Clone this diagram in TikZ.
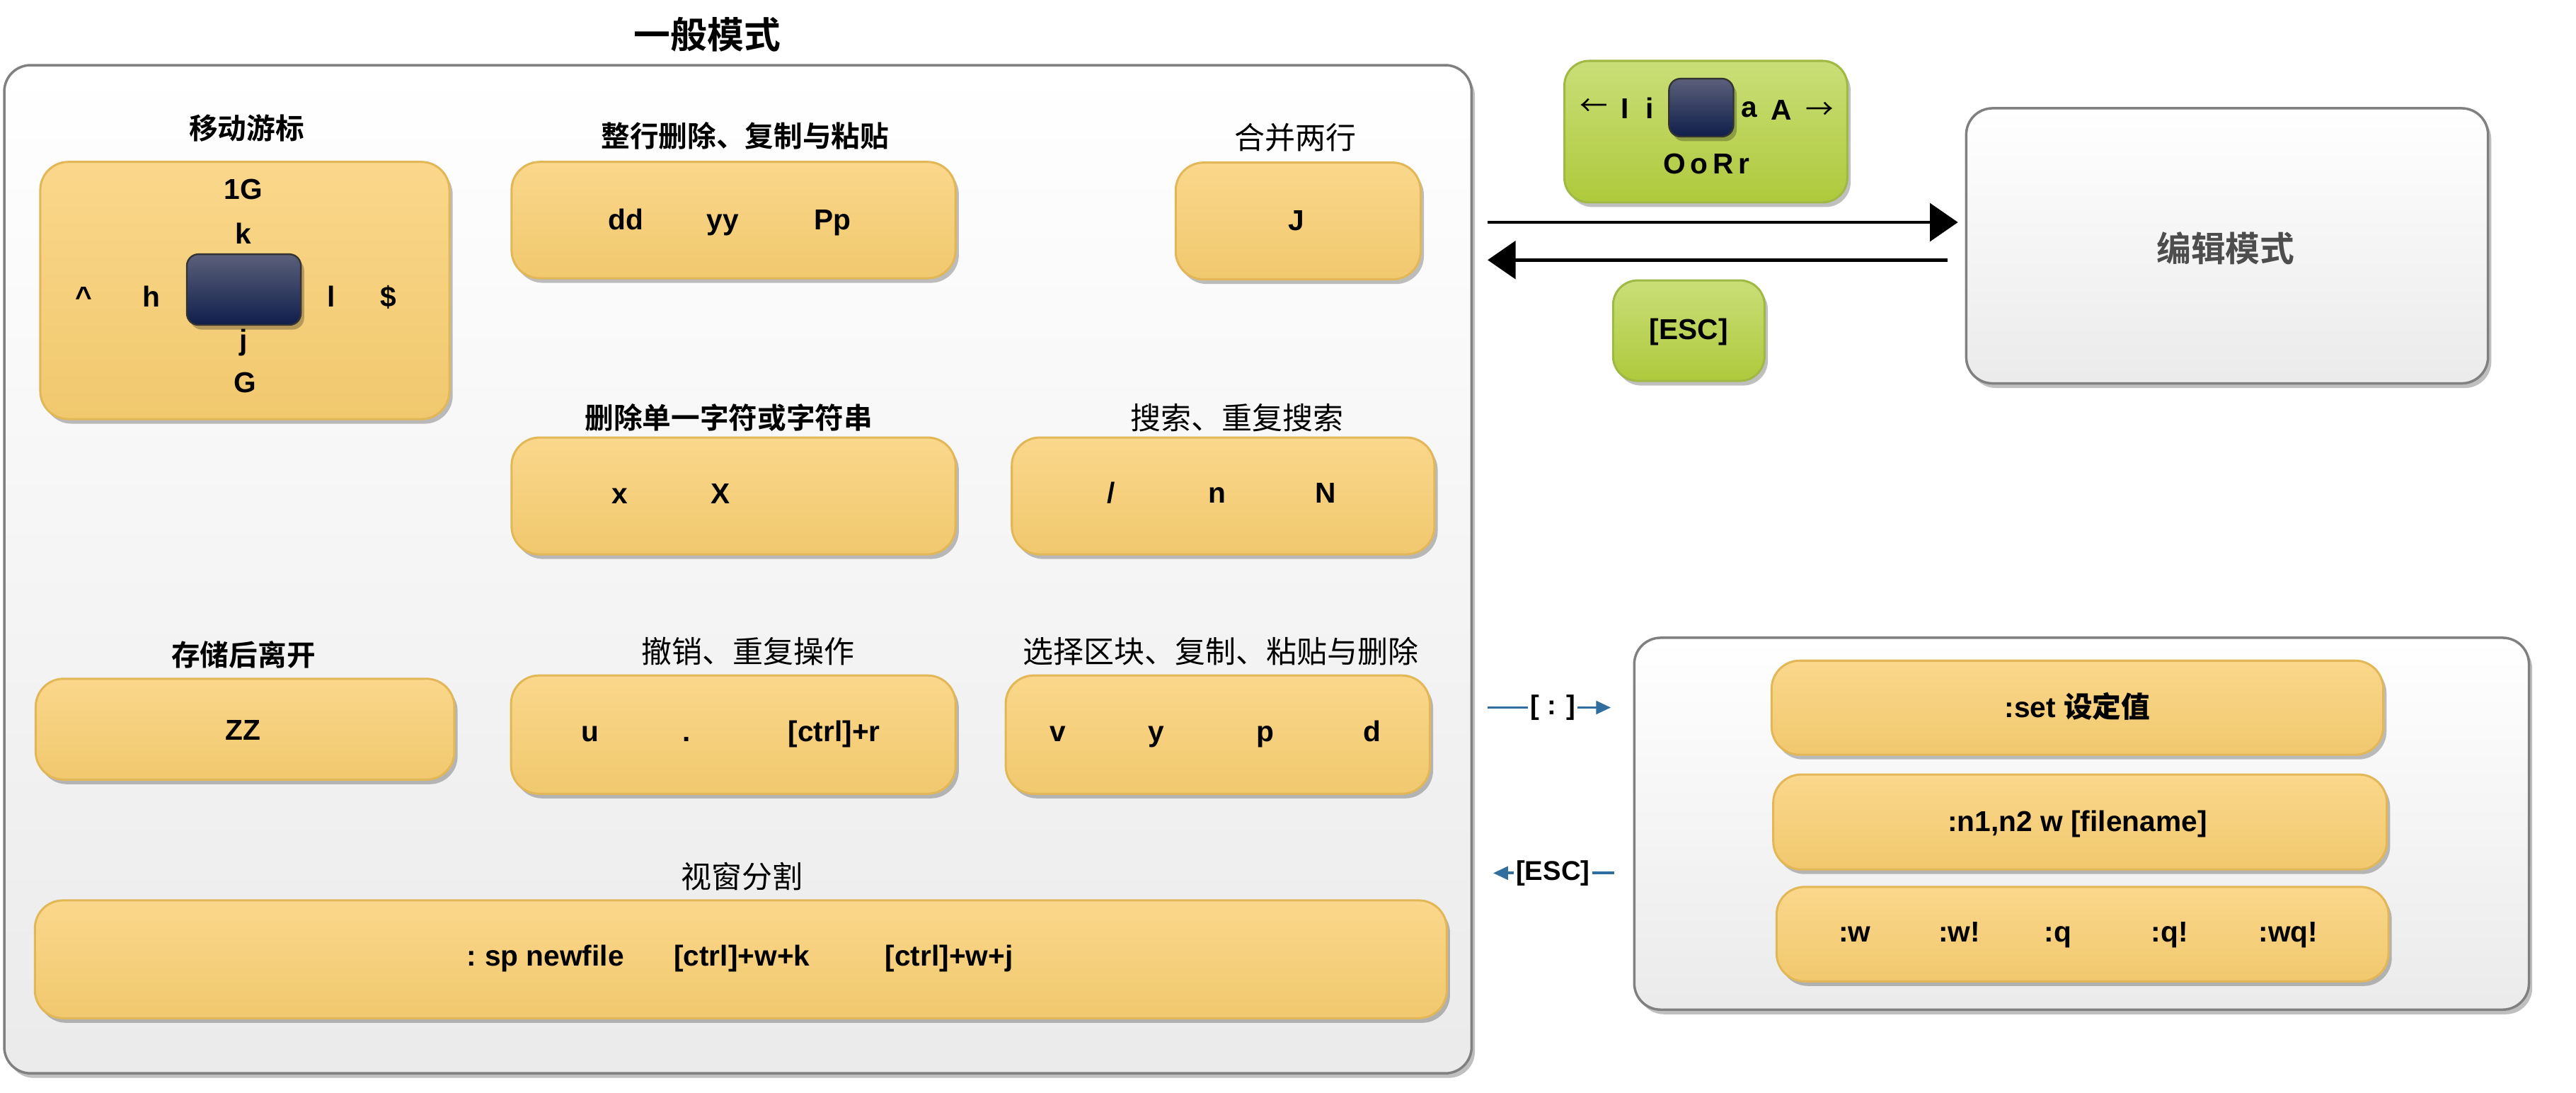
\documentclass[tikz,border=0pt]{standalone}
\usepackage{fontspec}
\setmainfont{Liberation Sans}
\newfontfamily\cjk{Noto Sans CJK SC}
\newfontfamily\cjkb{Noto Sans CJK SC Bold}
\usetikzlibrary{arrows.meta,shadows}
\definecolor{ytop}{HTML}{FAD78B}
\definecolor{ybot}{HTML}{F1C86E}
\definecolor{ybord}{HTML}{E2B758}
\definecolor{dtop}{HTML}{5B607A}
\definecolor{dbot}{HTML}{0F1E4B}
\definecolor{gtop}{HTML}{CADE78}
\definecolor{gbot}{HTML}{AFC93C}
\definecolor{gbord}{HTML}{9FB944}
\definecolor{blu}{HTML}{2F6E9E}
\definecolor{frm}{HTML}{808080}
\definecolor{edtxt}{HTML}{4D4D4D}
\newcommand\mybox[6]{\node[#1, minimum width={#5-#3}, minimum height={#6-#4}] (#2) at ({(#3+#5)/2},{(#4+#6)/2}) {};}
\tikzset{
  shad/.style={drop shadow={shadow xshift=2pt, shadow yshift=-2.8pt, fill=black, opacity=0.25}},
  bigbox/.style={draw=frm, line width=1.5pt, rounded corners=16pt, top color=white, bottom color=black!8, inner sep=0pt, shad},
  ybox/.style={draw=ybord, line width=1.3pt, rounded corners=17pt, top color=ytop, bottom color=ybot, inner sep=0pt, shad},
  gbox/.style={draw=gbord, line width=1.3pt, rounded corners=15pt, top color=gtop, bottom color=gbot, inner sep=0pt, shad},
  dbox/.style={draw=black!80, line width=1pt, rounded corners=7pt, top color=dtop, bottom color=dbot, inner sep=0pt, shad},
  keytxt/.style={font=\fontsize{17.5}{20}\selectfont\bfseries, inner sep=0pt, text height=12.5pt, text depth=3.5pt},
  cmdtxt/.style={font=\fontsize{17.5}{20}\selectfont\bfseries, inner sep=0pt, text height=12.5pt, text depth=3.5pt},
  headb/.style={font=\cjkb\fontsize{17.5}{20}\selectfont, inner sep=1pt},
  headr/.style={font=\cjk\fontsize{18.5}{21}\selectfont, inner sep=1pt},
  bigarr/.style={line width=2pt, -{Triangle[length=17pt,width=23pt]}},
  bluarr/.style={blu, line width=1.6pt, -{Triangle[length=9pt,width=8pt]}},
  lbl/.style={font=\fontsize{16.5}{19}\selectfont\bfseries, fill=white, inner sep=2pt, text=black},
}
\begin{document}
\begin{tikzpicture}[x=1pt,y=-1pt]
\useasboundingbox (0,0) rectangle (1566,664);
% title
\node[font=\cjkb\fontsize{22.3}{25}\selectfont] (title) at (430,21) {一般模式};
% main frame
\mybox{bigbox}{main}{2.6}{39.6}{894.6}{652.3}
% box 1: cursor movement
\node[headb] (h1) at (150,78) {移动游标};
\mybox{ybox}{b1}{24.5}{98.4}{273.2}{254.7}
\mybox{dbox}{cur}{113.6}{154.5}{182.9}{197.5}
\node[keytxt] (k1G) at (148,116.5) {1G};
\node[keytxt] (kk) at (148,143.7) {k};
\node[keytxt] (kc) at (51,181.8) {\textasciicircum};
\node[keytxt] (kh) at (92,181.8) {h};
\node[keytxt] (kl) at (201.5,181.8) {l};
\node[keytxt] (kd) at (236,181.8) {\$};
\node[keytxt] (kj) at (148,208.4) {j};
\node[keytxt] (kG) at (149,234.1) {G};
% box 2
\node[headb] (h2) at (453,82.6) {整行删除、复制与粘贴};
\mybox{ybox}{b2}{311}{98.4}{580.9}{169.1}
\node[keytxt] (kdd) at (380.4,135) {dd};
\node[keytxt] (kyy) at (439.3,135) {yy};
\node[keytxt] (kPp) at (506,135) {Pp};
% box 3
\node[headr] (h3) at (787.4,83.7) {合并两行};
\mybox{ybox}{b3}{714.7}{98.8}{863.6}{169.8}
\node[keytxt] (kJ) at (787.9,135.4) {J};
% box 4
\node[headb] (h4) at (443,254) {删除单一字符或字符串};
\mybox{ybox}{b4}{311}{265.9}{580.9}{336.9}
\node[keytxt] (kx) at (377,301.4) {x};
\node[keytxt] (kX) at (438,301.4) {X};
% box 5
\node[headr] (h5) at (752.2,253.9) {搜索、重复搜索};
\mybox{ybox}{b5}{615.1}{265.9}{872}{336.9}
\node[keytxt] (ks) at (675.6,301.3) {/};
\node[keytxt] (kn) at (739.9,301.3) {n};
\node[keytxt] (kN) at (805.9,301.3) {N};
% box 6
\node[headb] (h6) at (148,397.9) {存储后离开};
\mybox{ybox}{b6}{21.7}{412.5}{276.2}{473.8}
\node[keytxt] (kZZ) at (147.9,445.3) {ZZ};
% box 7
\node[headr] (h7) at (454.8,395.9) {撤销、重复操作};
\mybox{ybox}{b7}{310.7}{410.5}{580.9}{482.4}
\node[keytxt] (ku) at (358.9,446.2) {u};
\node[keytxt] (kdot) at (417.4,446.2) {.};
\node[keytxt] (kcr) at (507.1,446.2) {[ctrl]+r};
% box 8
\node[headr] (h8) at (742.3,395.9) {选择区块、复制、粘贴与删除};
\mybox{ybox}{b8}{611.4}{410.5}{869.2}{482.4}
\node[keytxt] (kv) at (643.1,446.2) {v};
\node[keytxt] (ky) at (702.7,446.2) {y};
\node[keytxt] (kp) at (769.1,446.2) {p};
\node[keytxt] (kd2) at (834.3,446.2) {d};
% box 9
\node[headr] (h9) at (451,532.7) {视窗分割};
\mybox{ybox}{b9}{21.2}{547.2}{879.5}{618.8}
\node[keytxt] (kcol) at (286.7,582.5) {:};
\node[keytxt] (ksp) at (337,582.5) {sp newfile};
\node[keytxt] (kwk) at (451,582.5) {[ctrl]+w+k};
\node[keytxt] (kwj) at (577,582.5) {[ctrl]+w+j};
% insert mode keys
\mybox{gbox}{g1}{951}{37}{1123}{123}
\mybox{dbox}{cur2}{1014.6}{47.8}{1053.8}{83}
\node[keytxt, font=\cjk\fontsize{17}{20}\selectfont] (gl) at (969,66) {←};
\node[keytxt] (gI) at (988,67.5) {I};
\node[keytxt] (gi) at (1003,67.5) {i};
\node[keytxt] (ga) at (1063.3,66.5) {a};
\node[keytxt] (gA) at (1083,68.5) {A};
\node[keytxt, font=\cjk\fontsize{17}{20}\selectfont] (gr) at (1106,68) {→};
\node[keytxt] (gO) at (1037.5,101.2) {O\,o\,R\,r};
\mybox{gbox}{g2}{980.6}{170.4}{1072.7}{231.5}
\node[keytxt] (gesc) at (1026.6,201.8) {[ESC]};
% edit mode
\mybox{bigbox}{edit}{1195.3}{65.8}{1512.5}{233}
\node[font=\cjkb\fontsize{21}{24}\selectfont, text=edtxt] (et) at (1353,151) {编辑模式};
\coordinate (ar1) at (0,135.1);
\coordinate (ar2) at (0,158);
\draw[bigarr, shorten <=9pt, shorten >=4.3pt] (main.east |- ar1) -- (edit.west |- ar1);
\draw[bigarr, shorten <=10.7pt, shorten >=9pt] (edit.west |- ar2) -- (main.east |- ar2);
% command mode
\mybox{bigbox}{cmd}{993.5}{387.6}{1537.4}{613.6}
\mybox{ybox}{c1}{1077}{401.5}{1448.8}{458.7}
\node[cmdtxt] (c1t) at (1262.9,431.5) {:set {\cjkb 设定值}};
\mybox{ybox}{c2}{1078}{470.7}{1451}{528.4}
\node[cmdtxt] (c2t) at (1262.9,500.9) {:n1,n2 w [filename]};
\mybox{ybox}{c3}{1080}{539}{1452}{596.4}
\node[cmdtxt] (cw) at (1127.6,568) {:w};
\node[cmdtxt] (cwx) at (1191,568) {:w!};
\node[cmdtxt] (cq) at (1251,568) {:q};
\node[cmdtxt] (cqx) at (1319,568) {:q!};
\node[cmdtxt] (cwq) at (1391,568) {:wq!};
\coordinate (br1) at (0,430);
\coordinate (br2) at (0,530.6);
\draw[bluarr, shorten <=9pt, shorten >=13.5pt] (main.east |- br1) -- node[lbl, inner sep=1.5pt] (lcol) {[ : ]} (cmd.west |- br1);
\draw[bluarr, shorten <=11.5pt, shorten >=12.4pt] (cmd.west |- br2) -- node[lbl, inner sep=1.5pt] (lesc) {[ESC]} (main.east |- br2);
\end{tikzpicture}
\end{document}
